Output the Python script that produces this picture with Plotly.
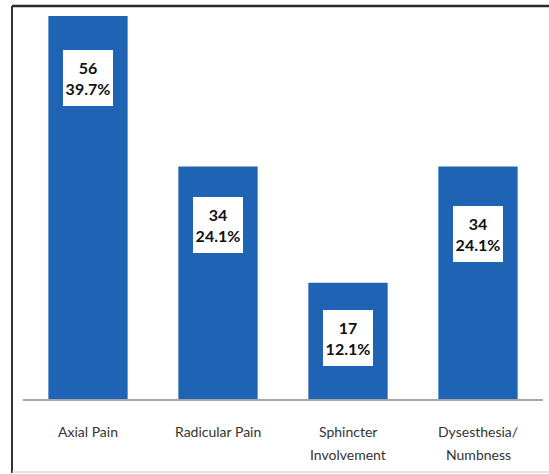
import plotly.graph_objects as go

# Symptom counts and their share of the 141 patients
categories = ["Axial Pain", "Radicular Pain", "Sphincter Involvement", "Dysesthesia/ Numbness"]
tick_labels = [["Axial Pain"], ["Radicular Pain"], ["Sphincter", "Involvement"], ["Dysesthesia/", "Numbness"]]
counts = [56, 34, 17, 34]
percents = ["39.7%", "24.1%", "12.1%", "24.1%"]

W, H = 549, 474
ML, MR, MT, MB = 23, 6, 16, 75
plot_w = W - ML - MR
plot_h = H - MT - MB

BAR_COLOR = "#1e63b4"
FONT = "Lato, Open Sans, Liberation Sans, sans-serif"

# Distance (px) from each bar's top to its value box
box_drop = [34, 31, 27, 40]

fig = go.Figure(
    go.Bar(
        x=categories,
        y=counts,
        marker=dict(color=BAR_COLOR, line=dict(width=0)),
        hoverinfo="skip",
    )
)

# White value boxes inside each bar
for cat, n, pct, drop in zip(categories, counts, percents, box_drop):
    fig.add_annotation(
        x=cat, y=n, xref="x", yref="y",
        text=f"<b>{n}<br>{pct}</b>",
        showarrow=False,
        yanchor="top", yshift=-drop,
        bgcolor="white",
        width=50, height=56, borderpad=0, borderwidth=0,
        font=dict(family=FONT, size=16, color="#111111"),
    )

# Category labels below the axis, one annotation per line for wider leading
LINE_GAP = 23
FIRST_LINE = 32
for cat, lines in zip(categories, tick_labels):
    for i, line in enumerate(lines):
        fig.add_annotation(
            x=cat, y=0, xref="x", yref="y",
            text=line, showarrow=False,
            yanchor="middle", yshift=-(FIRST_LINE + i * LINE_GAP),
            font=dict(family=FONT, size=14, color="#333333"),
        )

# Chart frame: dark left/top edges, faint bottom edge
def px_x(px):
    return (px - ML) / plot_w

def px_y(py):
    return (H - MB - py) / plot_h

fig.add_shape(type="line", xref="paper", yref="paper",
              x0=px_x(12), x1=px_x(12), y0=px_y(473), y1=px_y(6),
              line=dict(color="#333333", width=2))
fig.add_shape(type="line", xref="paper", yref="paper",
              x0=px_x(12), x1=px_x(549), y0=px_y(6), y1=px_y(6),
              line=dict(color="#2a2a2a", width=2.5))
fig.add_shape(type="line", xref="paper", yref="paper",
              x0=px_x(12), x1=px_x(549), y0=px_y(472), y1=px_y(472),
              line=dict(color="#c8c8c8", width=1))

fig.update_layout(
    width=W, height=H,
    margin=dict(l=ML, r=MR, t=MT, b=MB, pad=0),
    paper_bgcolor="white",
    plot_bgcolor="white",
    bargap=0.39,
    showlegend=False,
    font=dict(family=FONT, size=14, color="#333333"),
    xaxis=dict(
        showline=True, linecolor="#a6a6a6", linewidth=1.5,
        showgrid=False, zeroline=False,
        ticks="", showticklabels=False,
        fixedrange=True,
    ),
    yaxis=dict(
        range=[0, 56], visible=False, showgrid=False, zeroline=False,
        fixedrange=True,
    ),
)

fig.write_html("out.html")
